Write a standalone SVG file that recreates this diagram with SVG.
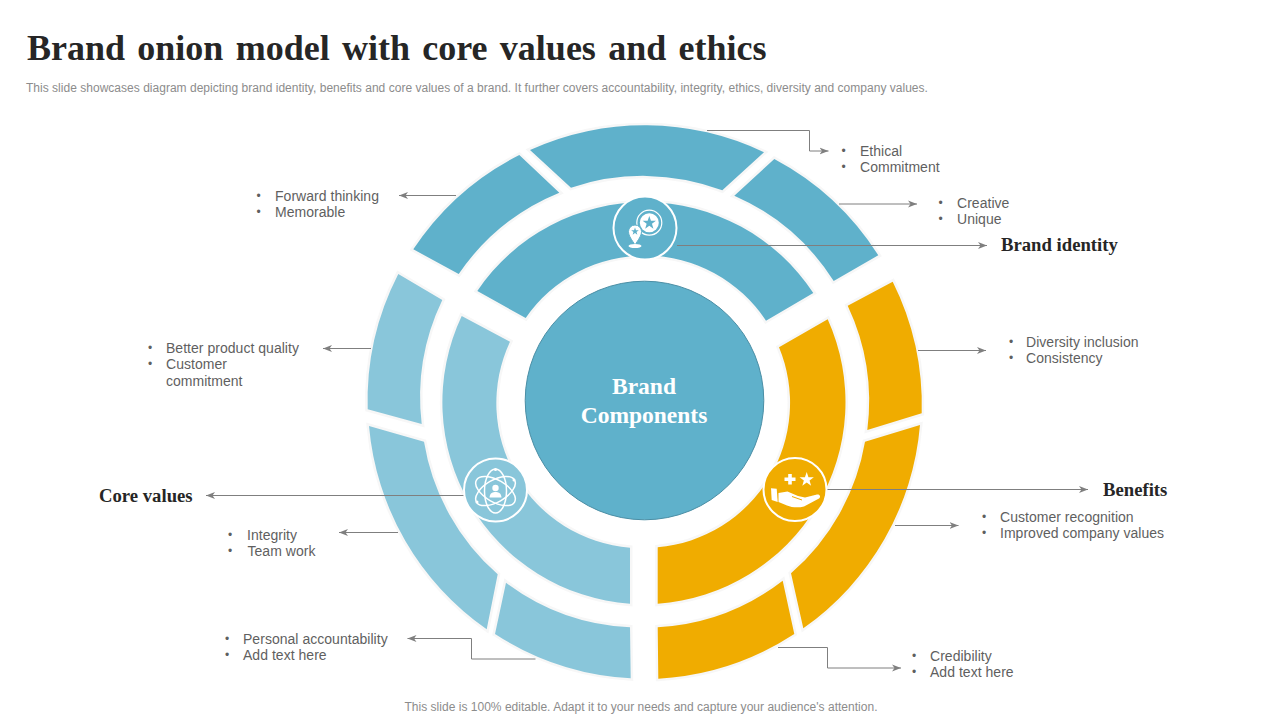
<svg xmlns="http://www.w3.org/2000/svg" width="1280" height="720" viewBox="0 0 1280 720">
<style>
.sans{font-family:"Liberation Sans",Arial,sans-serif;font-size:14px;fill:#5f5f5f;letter-spacing:.03px}
.bul{font-family:"Liberation Sans",Arial,sans-serif;font-size:12px;fill:#5f5f5f;text-anchor:middle}
.head{font-family:"Liberation Serif","Times New Roman",serif;font-weight:bold;font-size:18.700px;fill:#262626}
.note{font-family:"Liberation Sans",Arial,sans-serif;font-size:12px;fill:#8c8c8c;letter-spacing:.02px}
.seg{stroke:#f7f7f7;stroke-width:5;stroke-linejoin:miter;paint-order:stroke}
.dark{fill:#5fb1cb}.light{fill:#89c6da}.gold{fill:#f0ac00}
.conn{fill:none;stroke:#7f7f7f;stroke-width:1}
.arr{marker-end:url(#ah)}
.ring{stroke:#fff;stroke-width:2}
.ln{fill:none;stroke:#fff;stroke-width:1.500}
.ctr{font-family:"Liberation Serif","Times New Roman",serif;font-weight:bold;font-size:23.500px;fill:#fff;text-anchor:middle}
</style>
<defs>
<marker id="ah" markerUnits="userSpaceOnUse" markerWidth="10" markerHeight="8" refX="9" refY="4" orient="auto">
<path d="M0 0.500L9 4L0 7.500L2.500 4Z" fill="#7f7f7f"/>
</marker>
<polygon id="star" points="0,-1 .235,-.324 .951,-.309 .38,.124 .588,.809 0,.4 -.588,.809 -.38,.124 -.951,-.309 -.235,-.324"/>
</defs>
<rect width="1280" height="720" fill="#fff"/>
<text x="27" y="60" font-family="'Liberation Serif','Times New Roman',serif" font-weight="bold" font-size="36" fill="#262626" word-spacing="3.300">Brand onion model with core values and ethics</text>
<text class="note" x="26" y="92">This slide showcases diagram depicting brand identity, benefits and core values of a brand. It further covers accountability, integrity, ethics, diversity and company values.</text>
<text class="note" x="641" y="711" text-anchor="middle">This slide is 100% editable. Adapt it to your needs and capture your audience's attention.</text>

<g id="rings">
<path class="seg dark" d="M413.300 249.300A277 277 0 0 1 519.300 155L559.300 192.700A225 225 0 0 0 458.700 274Z"/>
<path class="seg dark" d="M530 150A277 277 0 0 1 764 152.300L722.300 190.300A225 225 0 0 0 571 187.700Z"/>
<path class="seg dark" d="M774.300 159A277 277 0 0 1 878.300 255.300L833.700 281A225 225 0 0 0 734.300 195.700Z"/>
<path class="seg dark" d="M477.300 291A202 202 0 0 1 813.300 293L766 320.700A145 145 0 0 0 525.700 318Z"/>
<path class="seg gold" d="M892.700 281.700A277 277 0 0 1 921.700 413.300L867.300 430A225 225 0 0 0 847.700 305.700Z"/>
<path class="seg gold" d="M920 425A277 277 0 0 1 803.300 628.300L791 573.300A225 225 0 0 0 865 441.700Z"/>
<path class="seg gold" d="M794.300 634A277 277 0 0 1 658.300 678.700L657.700 627.300A225 225 0 0 0 782.700 580.700Z"/>
<path class="seg gold" d="M827.700 319.300A202 202 0 0 1 657.700 603.700L657.700 547.300A145 145 0 0 0 779 347.300Z"/>
<path class="seg light" d="M398.300 274A277 277 0 0 0 367.700 409.300L421.700 424A225 225 0 0 1 442.300 300Z"/>
<path class="seg light" d="M369 426A277 277 0 0 0 486.700 629.300L497.700 574.300A225 225 0 0 1 424 441.700Z"/>
<path class="seg light" d="M495 634A277 277 0 0 0 630.700 678.300L630 627.300A225 225 0 0 1 506 582.700Z"/>
<path class="seg light" d="M461.700 316A202 202 0 0 0 630 603.700L630 547.700A145 145 0 0 1 510 341.700Z"/>
</g>

<g id="center">
<circle cx="644.500" cy="400.500" r="119.300" fill="#5fb1cb" stroke="#4a8ea5" stroke-width="1"/>
<text class="ctr" x="644" y="394">Brand</text>
<text class="ctr" x="644" y="423">Components</text>
</g>

<g id="connectors">
<path class="conn arr" d="M707 130.500H809.500V151H828.500"/>
<path class="conn arr" d="M839 204H917"/>
<path class="conn arr" d="M677 245.500H987"/>
<path class="conn arr" d="M456 195.500H399"/>
<path class="conn arr" d="M371 348.500H323"/>
<path class="conn arr" d="M465 495.500H206"/>
<path class="conn arr" d="M398 532.500H339"/>
<path class="conn arr" d="M535.500 659H471.500V638.500H407.500"/>
<path class="conn arr" d="M778 647.500H827.500V668H901"/>
<path class="conn arr" d="M895 525.500H958.500"/>
<path class="conn arr" d="M826 489.500H1088"/>
<path class="conn arr" d="M918 350.500H986"/>
</g>

<g id="icon-identity">
<circle class="ring" cx="645" cy="228" r="31.500" fill="#5fb1cb"/>
<circle cx="649.300" cy="222.700" r="12.500" fill="none" stroke="#fff" stroke-width="1.200"/>
<circle cx="649.300" cy="222.700" r="9.500" fill="#fff"/>
<use href="#star" transform="translate(649.300 223) scale(7)" fill="#5fb1cb"/>
<path d="M635 245C632 240 628.500 236 628.500 231.500A6.500 6.500 0 0 1 641.500 231.500C641.500 236 638 240 635 245Z" fill="#fff" stroke="#5fb1cb" stroke-width="1"/>
<use href="#star" transform="translate(635 231.500) scale(4)" fill="#5fb1cb"/>
<ellipse cx="635" cy="246" rx="6.500" ry="2" fill="#fff"/>
</g>

<g id="icon-values">
<circle class="ring" cx="495.500" cy="490" r="31.500" fill="#89c6da"/>
<ellipse class="ln" cx="495.500" cy="491" rx="11" ry="22"/>
<ellipse class="ln" cx="495.500" cy="491" rx="11" ry="22" transform="rotate(60 495.500 491)"/>
<ellipse class="ln" cx="495.500" cy="491" rx="11" ry="22" transform="rotate(-60 495.500 491)"/>
<circle cx="495.500" cy="488" r="3.200" fill="#fff"/>
<path d="M489.500 497.500C490 492.500 493 492 495.500 492C498 492 501 492.500 501.500 497.500Z" fill="#fff"/>
<circle cx="495.500" cy="469.500" r="1.500" fill="#fff"/>
<circle cx="514" cy="480" r="1.500" fill="#fff"/>
<circle cx="477" cy="502" r="1.500" fill="#fff"/>
</g>

<g id="icon-benefits">
<circle class="ring" cx="795" cy="489.500" r="31.500" fill="#f0ac00"/>
<path d="M784.500 479.300H795.500M790 474V484.600" fill="none" stroke="#fff" stroke-width="3.600"/>
<use href="#star" transform="translate(806.700 479.600) scale(7.500)" fill="#fff"/>
<path d="M771 488.300L776.700 488.800L777.700 502L771.700 500Z" fill="#fff"/>
<path d="M778.500 493L787.500 491.500L798 496L805 497.500L817 494.500C820 494 821 497 819 498.500L804 506.500C798 508 792 507.500 787 505.500L778.500 502Z" fill="#fff"/>
<path d="M792 496.500L802 500" fill="none" stroke="#f0ac00" stroke-width="1"/>
</g>

<g id="n-ethical">
<text class="bul" x="843.500" y="155">•</text><text class="bul" x="843.500" y="171">•</text>
<text class="sans" x="860" y="156">Ethical</text><text class="sans" x="860" y="172">Commitment</text>
</g>
<g id="n-creative">
<text class="bul" x="940.500" y="207">•</text><text class="bul" x="940.500" y="223">•</text>
<text class="sans" x="957" y="208">Creative</text><text class="sans" x="957" y="224">Unique</text>
</g>
<g id="n-forward">
<text class="bul" x="258.500" y="200">•</text><text class="bul" x="258.500" y="216">•</text>
<text class="sans" x="275" y="201">Forward thinking</text><text class="sans" x="275" y="217">Memorable</text>
</g>
<g id="n-better">
<text class="bul" x="150" y="352">•</text><text class="bul" x="150" y="368">•</text>
<text class="sans" x="166" y="353">Better product quality</text><text class="sans" x="166" y="369">Customer</text><text class="sans" x="166" y="386">commitment</text>
</g>
<g id="n-integrity">
<text class="bul" x="230" y="539">•</text><text class="bul" x="230" y="555">•</text>
<text class="sans" x="247" y="540">Integrity</text><text class="sans" x="247.500" y="556">Team work</text>
</g>
<g id="n-personal">
<text class="bul" x="227" y="643">•</text><text class="bul" x="227" y="659">•</text>
<text class="sans" x="243" y="644">Personal accountability</text><text class="sans" x="243" y="660">Add text here</text>
</g>
<g id="n-diversity">
<text class="bul" x="1011" y="346">•</text><text class="bul" x="1011" y="362">•</text>
<text class="sans" x="1026" y="347">Diversity inclusion</text><text class="sans" x="1026" y="363">Consistency</text>
</g>
<g id="n-customer">
<text class="bul" x="984" y="521">•</text><text class="bul" x="984" y="537">•</text>
<text class="sans" x="1000" y="522">Customer recognition</text><text class="sans" x="1000" y="538">Improved company values</text>
</g>
<g id="n-credibility">
<text class="bul" x="914" y="660">•</text><text class="bul" x="914" y="676">•</text>
<text class="sans" x="930" y="661">Credibility</text><text class="sans" x="930" y="677">Add text here</text>
</g>
<g id="n-brand-identity"><text class="head" x="1001" y="251">Brand identity</text></g>
<g id="n-benefits"><text class="head" x="1103" y="496">Benefits</text></g>
<g id="n-core-values"><text class="head" x="99" y="502">Core values</text></g>
</svg>
